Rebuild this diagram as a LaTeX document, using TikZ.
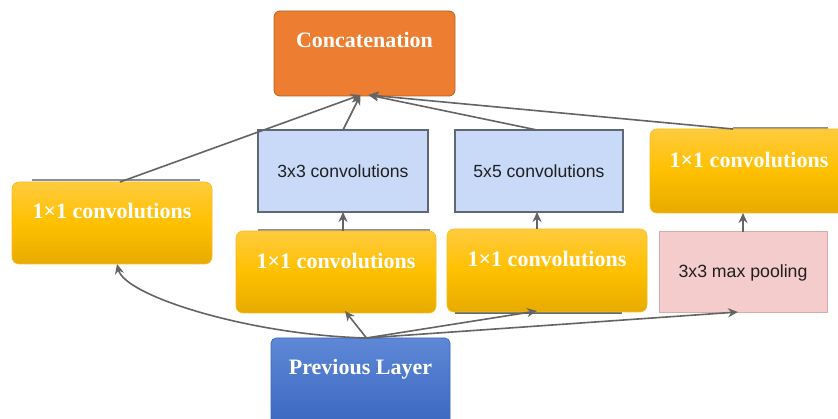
\documentclass[tikz,border=0pt]{standalone}
\usepackage{fontspec}
\setmainfont{Liberation Serif}
\newfontfamily\labelsans{Liberation Sans}
\usetikzlibrary{arrows.meta,calc}

\definecolor{concatfill}{HTML}{ED7D31}
\definecolor{concatedge}{HTML}{B9601F}
\definecolor{ytop}{HTML}{FFCB3E}
\definecolor{ymid}{HTML}{FFC000}
\definecolor{ybot}{HTML}{E6AB00}
\definecolor{yedge}{HTML}{F6BE1A}
\definecolor{ptop}{HTML}{5E88D6}
\definecolor{pbot}{HTML}{3A66BF}
\definecolor{convfill}{HTML}{C9DAF8}
\definecolor{convedge}{HTML}{5F6875}
\definecolor{poolfill}{HTML}{F4CCCC}
\definecolor{pooledge}{HTML}{DDAAAA}
\definecolor{wire}{HTML}{646464}
\definecolor{ghost}{HTML}{8A909A}

\tikzset{
  box/.style={anchor=north west, inner sep=0pt, outer sep=0pt},
  serifbox/.style={box, font=\fontsize{22}{24}\selectfont\bfseries, text=white},
  yellowbox/.style={serifbox, rounded corners=7pt, draw=yedge, line width=0.6pt,
    top color=ytop, bottom color=ybot, middle color=ymid},
  concatbox/.style={serifbox, rounded corners=6pt, fill=concatfill, draw=concatedge, line width=0.8pt},
  prevbox/.style={serifbox, rounded corners=5pt, draw=pbot, line width=0.6pt,
    top color=ptop, bottom color=pbot},
  convbox/.style={box, fill=convfill, draw=convedge, line width=1.4pt,
    font=\labelsans\fontsize{17.6}{19}\selectfont, text=black!88},
  poolbox/.style={box, fill=poolfill, draw=pooledge, line width=1pt,
    font=\labelsans\fontsize{17.7}{19}\selectfont, text=black!88},
  flow/.style={draw=wire, line width=1.6pt, -{Stealth[length=10pt,width=9pt]}},
  edgeline/.style={draw=ghost, line width=1.2pt}
}

\begin{document}
\begin{tikzpicture}[x=1pt,y=-1pt]
  \useasboundingbox (0,0) rectangle (838,419);

  % faint edges of boxes lying under the yellow ones
  \draw[edgeline] (32,180) -- (200,180);
  \draw[edgeline] (258,230) -- (430,230);
  \draw[edgeline, draw=convedge] (455,313) -- (622,313);
  \draw[edgeline] (733,128) -- (828,128);

  % layers
  \node[concatbox, minimum width=181pt, minimum height=85pt,
        text height=37pt, text depth=48pt] (concat) at (274,11) {Concatenation};

  \node[yellowbox, minimum width=200pt, minimum height=82pt,
        text height=37pt, text depth=45pt] (l1) at (12,182) {1×1 convolutions};

  \node[convbox, minimum width=170pt, minimum height=82pt] (c3) at (258,130) {3x3 convolutions};
  \node[convbox, minimum width=168pt, minimum height=82pt] (c5) at (455,130) {5x5 convolutions};

  \node[yellowbox, minimum width=198pt, minimum height=84pt,
        text height=39pt, text depth=45pt] (r1) at (650,129) {1×1 convolutions};

  \node[yellowbox, minimum width=200pt, minimum height=82pt,
        text height=38pt, text depth=44pt] (m1) at (236,231) {1×1 convolutions};
  \node[yellowbox, minimum width=200pt, minimum height=83pt,
        text height=38pt, text depth=45pt] (s1) at (447,229) {1×1 convolutions};

  \node[poolbox, minimum width=168pt, minimum height=81pt] (pool) at (659,232) {3x3 max pooling};

  \node[prevbox, minimum width=179pt, minimum height=90pt,
        text height=37pt, text depth=53pt] (prev) at (271,338) {Previous Layer};

  \coordinate (src) at ([xshift=6pt]prev.north);

  % from the previous layer into the four branches
  \draw[flow] (src) .. controls +(-117,-3) and +(8,32) .. ([xshift=5pt]l1.south);
  \draw[flow] (src) -- ([xshift=9pt,yshift=2pt]m1.south);
  \draw[flow] (src) -- ([xshift=-10pt,yshift=1pt]s1.south);
  \draw[flow] (src) -- ([xshift=-5pt,yshift=1pt]pool.south);

  % inside the branches
  \draw[flow] (c3.south |- m1.north) -- (c3.south);
  \draw[flow] ([xshift=-2pt]c5.south |- s1.north) -- ([xshift=-2pt]c5.south);
  \draw[flow] (pool.north) -- (pool.north |- r1.south);

  % branches into the concatenation
  \draw[flow] ([xshift=8pt]l1.north) -- ([xshift=-4pt,yshift=1pt]concat.south);
  \draw[flow] (c3.north) -- ([xshift=-4pt,yshift=1pt]concat.south);
  \draw[flow] ([xshift=-2pt]c5.north) -- ([xshift=4pt,yshift=1pt]concat.south);
  \draw[flow] ([xshift=-16pt]r1.north) -- ([xshift=4pt,yshift=1pt]concat.south);
\end{tikzpicture}
\end{document}
